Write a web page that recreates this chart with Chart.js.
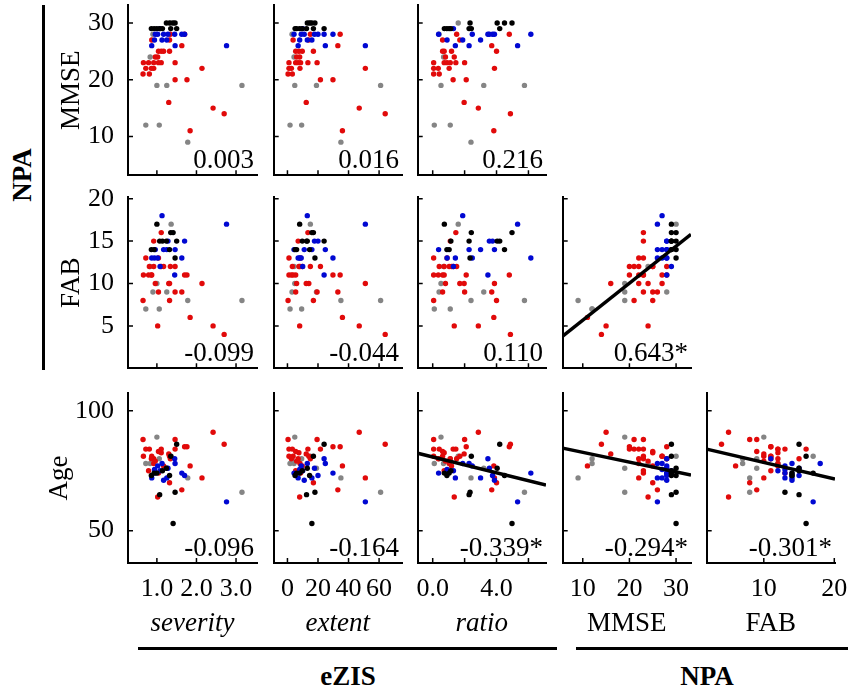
<!DOCTYPE html>
<html>
<head>
<meta charset="utf-8">
<script src="https://cdn.jsdelivr.net/npm/chart.js@4.4.1/dist/chart.umd.min.js"></script>
<style>
  body { margin: 0; background: #fff; width: 851px; height: 690px; position: relative; overflow: hidden; font-family: "Liberation Serif", "Times New Roman", Tinos, "DejaVu Serif", serif; }
  canvas { position: absolute; }
  .txt { position: absolute; transform: translate(-50%, -50%); font-weight: bold; font-size: 27px; line-height: 1; white-space: nowrap; color: #000; }
  .bar { position: absolute; background: #000; }
</style>
</head>
<body>
<div class="txt" style="left:22px;top:175px;transform:translate(-50%,-50%) rotate(-90deg);">NPA</div>
<div class="bar" style="left:42px;top:5px;width:3px;height:365px;"></div>
<div class="bar" style="left:138px;top:647px;width:419px;height:3px;"></div>
<div class="bar" style="left:576px;top:647px;width:272px;height:3px;"></div>
<div class="txt" style="left:348px;top:676px;">eZIS</div>
<div class="txt" style="left:707px;top:676px;">NPA</div>

<script>
// one entry per subject: g = gray, r = red, u = blue, k = black
const group = [
  'g','g','g','g','g','g','g','g','g',
  'r','r','r','r','r','r','r','r','r','r','r','r','r','r','r','r','r','r','r','r','r','r','r','r','r','r','r','r','r',
  'u','u','u','u','u','u','u','u','u','u','u','u','u','u',
  'k','k','k','k','k','k','k','k','k','k','k'
];
const severity = [
  0.72,0.83,0.90,1.00,1.06,1.25,1.36,1.78,3.15,
  2.70,2.42,2.14,1.84,1.76,1.70,1.63,1.46,1.46,1.34,1.32,1.32,1.30,1.17,1.11,1.11,1.04,1.04,1.02,0.92,0.92,0.87,0.86,0.81,0.79,0.72,0.66,0.65,0.96,
  0.96,0.94,1.08,0.87,1.13,1.46,1.02,1.25,1.45,1.28,1.70,1.17,2.76,1.63,
  1.00,0.86,0.93,1.14,1.07,1.35,1.50,1.46,1.24,1.32,1.41
];
const extent = [
  1.7,4.3,3.0,4.8,9.3,19,15,35,61,
  64,47,51,36,29.8,34.5,33,19.4,21.6,15,14,17,12.3,9.7,13.4,7.5,5.4,8.6,8,7,8.2,3.7,2.6,3.2,5.4,1,1,0.4,6,
  4.3,8,10,7,13,24.8,9,16,24,17.7,20,11,51,29.8,
  8,5,6,9.7,12.5,17,24,18,13,14.5,16
];
const ratio = [
  0.10,0.68,0.40,0.52,1.10,3.20,1.60,2.40,5.75,
  4.87,2.86,3.87,3.83,2.10,4.80,3.70,2.00,1.28,1.50,1.70,4.00,1.97,1.18,1.45,0.72,0.62,0.90,1.35,1.10,1.03,0.62,0.35,0.41,0.72,0.06,0.06,0.06,0.80,
  0.37,0.90,1.30,1.42,1.88,2.28,2.48,3.00,3.46,3.55,3.75,3.87,5.32,6.15,
  0.73,0.89,1.03,1.14,2.28,2.42,4.20,2.34,4.04,4.50,4.97
];
const mmse = [
  12,24,28,19,12,19,30,9,19,
  14,15,22,11,20,28,26,23,20,28,27,25,16,25,23,25,25,23,24,23,22,27,22,21,23,22,23,21,24,
  28,27,29,26,27,26,28,27,28,28,28,28,26,28,
  29,29,29,29,29,29,29,30,30,30,30
];
const fab = [
  7,12,9,10,7,9,17,8,8,
  4,5,10,6,11,11,9,9,12,12,10,8,10,12,16,12,9,13,5,15,12,11,11,12,11,13,11,8,10,
  14,13,12,13,18,14,13,14,11,15,15,14,17,13,
  17,14,14,15,15,16,15,13,15,14,16
];
const age = [
  78,78,80,89,80,76,81,72,66,
  86,91,72,77,85,85,67,88,84,80,81,70,82,77,84,82.5,83,74,64,80,78,81,80,84,75,84,81,88,79,
  74,75.5,75,72,78,78,77,72,80,76,73,71,62,74,
  74,73,74,75,65,81,86,66,76,73,53
];

// axes
const xNames = ['severity', 'extent', 'ratio', 'MMSE', 'FAB'];
const xMin = [0.27, -9, -0.94, 5.7, 1.9];
const xMax = [3.53, 75, 7.1, 33.2, 20.1];
const xTicks = [[1, 2, 3], [0, 20, 40, 60], [0, 2, 4, 6], [10, 20, 30], [10, 20]];
const xTickLabels = [['1.0', '2.0', '3.0'], ['0', '20', '40', '60'], ['0.0', '', '4.0', ''], ['10', '20', '30'], ['10', '20']];

const yNames = ['MMSE', 'FAB', 'Age'];
const yMin = [3.16, 0.0, 36.5];
const yMax = [33.16, 20.2, 107.4];
const yTicks = [[10, 20, 30], [5, 10, 15, 20], [50, 100]];

// correlation coefficients per row
const rMMSE = ['0.003', '0.016', '0.216'];
const rFAB = ['-0.099', '-0.044', '0.110', '0.643*'];
const rAge = ['-0.096', '-0.164', '-0.339*', '-0.294*', '-0.301*'];

// regression lines, two end points each: [x0, y0, x1, y1]
const fitFabMmse = [5.7, 3.8, 33.2, 15.8];
const fitAgeRatio = [-0.94, 82.3, 7.1, 69.0];
const fitAgeMmse = [5.7, 84.4, 33.2, 73.2];
const fitAgeFab = [1.9, 84.0, 20.1, 71.5];

const variables = { severity: severity, extent: extent, ratio: ratio, MMSE: mmse, FAB: fab, Age: age };
const colours = { k: '#000000', u: '#0008d2', r: '#e10a0a', g: '#858585' };
const stackOrder = ['k', 'u', 'r', 'g'];   // first dataset is drawn on top

//layout of the panel grid
const colLeft = [128, 273, 417, 562, 706];
const panelW = 129;
const rowTop = [5, 197, 393];
const rowH = [171, 172, 170];
const pad = 16;
const serif = '"Liberation Serif", "Times New Roman", Tinos, "DejaVu Serif", serif';

Chart.defaults.font.family = serif;
Chart.defaults.color = '#000';

const panelExtras = {
  id: 'panelExtras',
  afterDraw(chart, args, opts) {
    const { ctx, chartArea: a, scales: { x, y } } = chart;
    ctx.save();
    ctx.strokeStyle = '#000';
    ctx.lineWidth = 1.5;
    ctx.beginPath();
    x.ticks.forEach(t => {
      const px = x.getPixelForValue(t.value);
      ctx.moveTo(px, a.bottom);
      ctx.lineTo(px, a.bottom - 5);
    });
    y.ticks.forEach(t => {
      const py = y.getPixelForValue(t.value);
      ctx.moveTo(a.left, py);
      ctx.lineTo(a.left + 5, py);
    });
    ctx.stroke();
    ctx.font = '27px ' + serif;
    ctx.fillStyle = '#000';
    ctx.textAlign = 'right';
    ctx.textBaseline = 'alphabetic';
    ctx.fillText(opts.text, a.right - 3, a.bottom - 7);
    ctx.restore();
  }
};

function makePanel(row, col, rText, fit) {
  const xv = xNames[col], yv = yNames[row];
  const L = col === 0 ? 88 : 2;
  const B = row === 2 ? 77 : 2;
  const w = L + panelW + pad, h = pad + rowH[row] + B;

  const canvas = document.createElement('canvas');
  canvas.width = w; canvas.height = h;
  canvas.style.left = (colLeft[col] - L) + 'px';
  canvas.style.top = (rowTop[row] - pad) + 'px';
  canvas.style.width = w + 'px'; canvas.style.height = h + 'px';
  document.body.appendChild(canvas);

  const xs = variables[xv], ys = variables[yv];
  const datasets = [];
  if (fit) {
    datasets.push({
      data: [{ x: fit[0], y: fit[1] }, { x: fit[2], y: fit[3] }],
      showLine: true, borderColor: '#000', borderWidth: 3.5, pointRadius: 0
    });
  }
  stackOrder.forEach(g => {
    const pts = [];
    group.forEach((gg, i) => { if (gg === g) pts.push({ x: xs[i], y: ys[i] }); });
    datasets.push({ data: pts, backgroundColor: colours[g], pointRadius: 2.7, pointBorderWidth: 0, pointHoverRadius: 2.7 });
  });

  new Chart(canvas, {
    type: 'scatter',
    data: { datasets: datasets },
    options: {
      responsive: false,
      animation: false,
      layout: { padding: { top: pad, right: pad, bottom: 0, left: 0 } },
      plugins: { legend: { display: false }, tooltip: { enabled: false }, panelExtras: { text: rText } },
      scales: {
        x: {
          type: 'linear', min: xMin[col], max: xMax[col],
          afterBuildTicks: s => { s.ticks = xTicks[col].map(v => ({ value: v })); },
          afterFit: s => { s.height = B; s.paddingLeft = 0; s.paddingRight = 0; },
          grid: { display: false },
          border: { display: true, color: '#000', width: 2 },
          ticks: {
            display: row === 2, padding: 3, autoSkip: false, maxRotation: 0, minRotation: 0,
            font: { size: 26 }, callback: (v, k) => xTickLabels[col][k]
          },
          title: {
            display: row === 2, text: xv, padding: { top: 0, bottom: 0 },
            font: { size: 27, style: col < 3 ? 'italic' : 'normal' }
          }
        },
        y: {
          type: 'linear', min: yMin[row], max: yMax[row],
          afterBuildTicks: s => { s.ticks = yTicks[row].map(v => ({ value: v })); },
          afterFit: s => { s.width = L; s.paddingTop = 0; s.paddingBottom = 0; },
          grid: { display: false },
          border: { display: true, color: '#000', width: 2 },
          ticks: { display: col === 0, padding: 6, autoSkip: false, font: { size: 26 } },
          title: {
            display: col === 0, text: yv, font: { size: 27 },
            padding: { top: yv === 'Age' ? 4 : 16, bottom: 0 }
          }
        }
      }
    },
    plugins: [panelExtras]
  });
}

// MMSE row
rMMSE.forEach((r, c) => makePanel(0, c, r, null));
// FAB row
rFAB.forEach((r, c) => makePanel(1, c, r, c === 3 ? fitFabMmse : null));
// Age row
const ageFits = [null, null, fitAgeRatio, fitAgeMmse, fitAgeFab];
rAge.forEach((r, c) => makePanel(2, c, r, ageFits[c]));
</script>
</body>
</html>
